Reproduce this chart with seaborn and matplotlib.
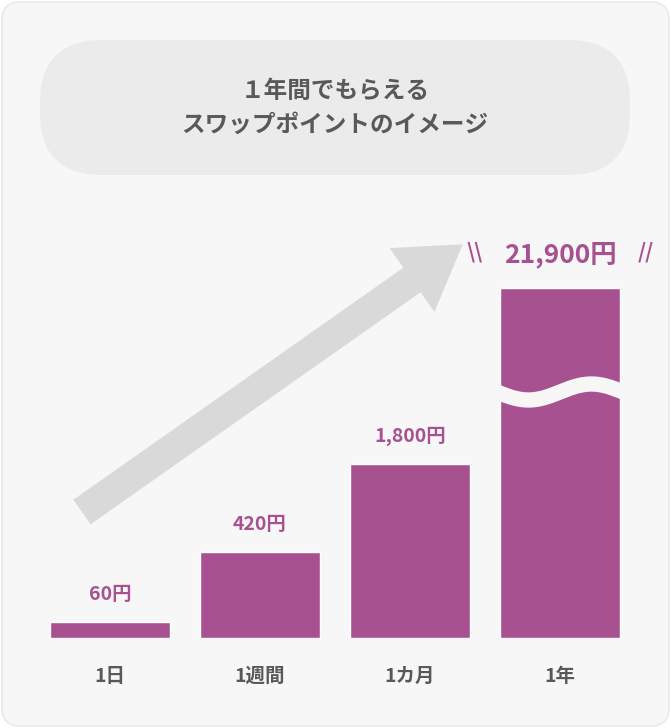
import matplotlib
matplotlib.use("Agg")
import matplotlib.pyplot as plt
import seaborn as sns
import numpy as np
import pandas as pd
from matplotlib.patches import FancyBboxPatch, FancyArrow

# ---- datos ----
periodos = ["1日", "1週間", "1カ月", "1年"]
etiquetas = ["60円", "420円", "1,800円", "21,900円"]
# alturas visuales (el gráfico no está a escala: la barra del año está cortada)
alturas = [16, 86, 174, 350]
titulo = "１年間でもらえる\nスワップポイントのイメージ"

COLOR_BARRA = "#a85191"
COLOR_TEXTO = "#595959"

sns.set_theme(style="white")
plt.rcParams["font.family"] = ["Noto Sans CJK JP", "DejaVu Sans"]

W, H = 671, 728
fig = plt.figure(figsize=(W / 100, H / 100), dpi=100)
fig.patch.set_facecolor("white")

# capa de fondo en coordenadas de píxel
bg = fig.add_axes([0, 0, 1, 1])
bg.set_xlim(0, W)
bg.set_ylim(H, 0)
bg.axis("off")
bg.add_patch(FancyBboxPatch((2, 2), W - 4, H - 4, boxstyle="round,pad=0,rounding_size=18",
                            fc="#f7f7f7", ec="#e6e6e6", lw=1))
bg.add_patch(FancyBboxPatch((40, 40), 590, 135, boxstyle="round,pad=0,rounding_size=62",
                            fc="#ebebeb", ec="none"))
bg.text(335, 108, titulo, ha="center", va="center", fontsize=17, fontweight="bold",
        color=COLOR_TEXTO, linespacing=1.55)
bg.add_patch(FancyArrow(82, 512, 330, -232, width=30, head_width=78, head_length=62,
                        length_includes_head=False, fc="#d9d9d9", ec="none"))

# barras
ax = fig.add_axes([35 / W, (H - 638) / H, 600 / W, 400 / H])
df = pd.DataFrame({"periodo": periodos, "altura": alturas})
sns.barplot(data=df, x="periodo", y="altura", color=COLOR_BARRA, width=0.8,
            saturation=1, ax=ax)
ax.set_ylim(0, 400)
ax.set_xlim(-0.5, 3.5)
ax.axis("off")
ax.patch.set_alpha(0)

for i, (h, txt) in enumerate(zip(alturas, etiquetas)):
    grande = i == len(alturas) - 1
    ax.text(i, h + (20 if grande else 18), txt, ha="center", va="bottom",
            fontsize=19 if grande else 14, fontweight="bold", color=COLOR_BARRA)
    ax.text(i, -38, periodos[i], ha="center", va="center", fontsize=14,
            fontweight="bold", color=COLOR_TEXTO)

# rayitas alrededor del total anual
ax.text(2.43, 370 + 5, "\\\\", ha="center", va="bottom", fontsize=15, color=COLOR_BARRA, fontweight="bold")
ax.text(3.57, 370 + 5, "//", ha="center", va="bottom", fontsize=15, color=COLOR_BARRA, fontweight="bold")

# corte ondulado en la barra del año
xs = np.linspace(2.58, 3.42, 200)
ys = 246 + 8 * np.sin((xs - 2.58) / 0.84 * 2 * np.pi + np.pi)
ax.plot(xs, ys, color="#f7f7f7", lw=11, solid_capstyle="butt")

fig.savefig("out.png", dpi=100)
